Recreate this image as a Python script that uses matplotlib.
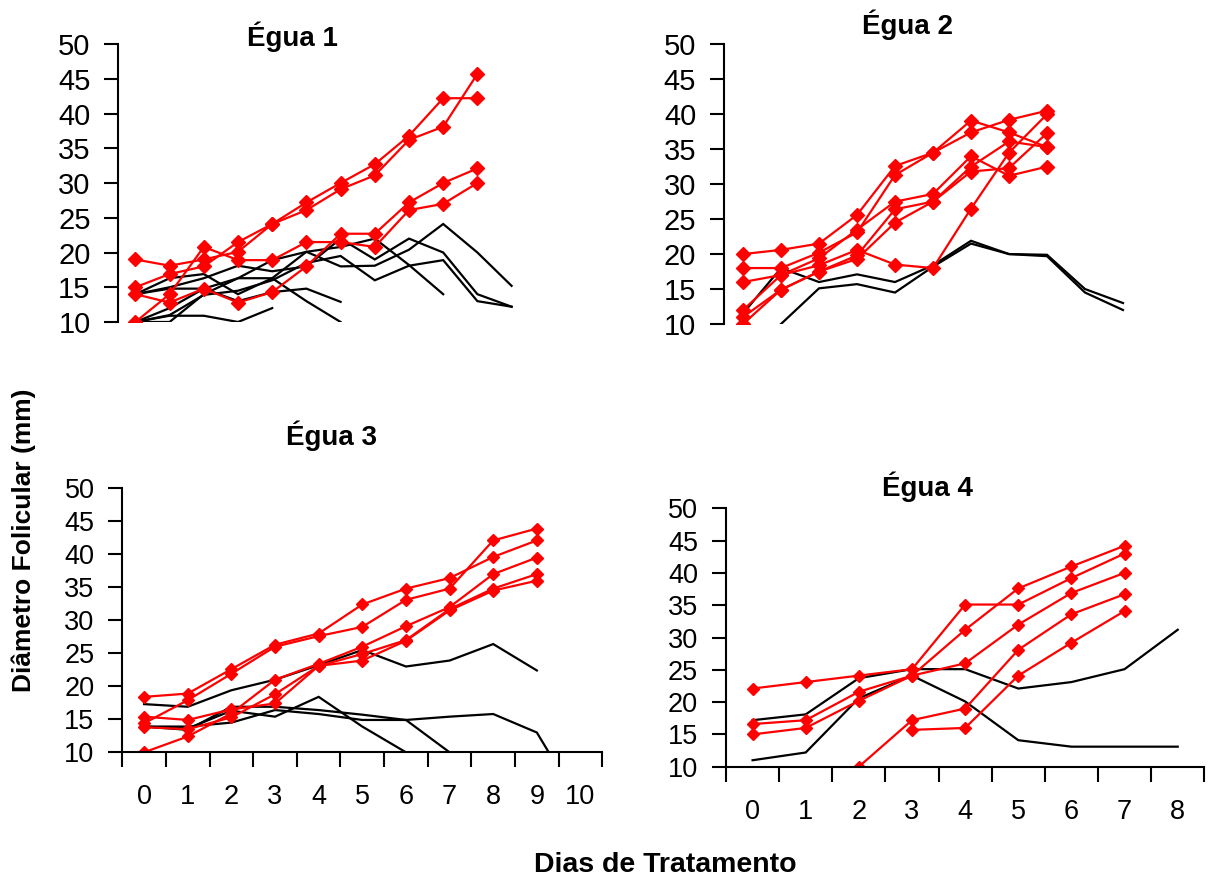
import numpy as np
import matplotlib
matplotlib.use("Agg")
import matplotlib.pyplot as plt

plt.rcParams['font.family'] = ['Liberation Sans', 'DejaVu Sans']

nan = np.nan
RED = '#FF0000'

# ---- Égua 1 (days 0..11) ----
e1_days = list(range(12))
e1_red = [
    [19.0, 18.1, 19.0, 20.1, 24.1, 27.2, 30.0, 32.7, 36.8, 42.2, 42.2, nan],
    [15.0, 16.9, 18.0, 21.5, 24.1, 26.1, 29.1, 31.1, 36.2, 38.1, 45.7, nan],
    [10.0, 14.0, 20.8, 18.9, 18.9, 21.5, 21.5, 20.8, 26.1, 27.0, 30.0, nan],
    [14.0, 12.8, 14.8, 12.8, 14.3, 18.0, 22.7, 22.7, 27.2, 30.0, 32.1, nan],
]
e1_black = [
    [10.0, 10.9, 10.9, 10.0, 12.0, nan, nan, nan, nan, nan, nan, nan],
    [10.0, 10.0, 14.0, 16.3, 16.3, 13.0, 10.0, nan, nan, nan, nan, nan],
    [14.0, 14.8, 14.8, 13.0, 14.3, 14.8, 12.9, nan, nan, nan, nan, nan],
    [14.0, 16.3, 16.9, 14.0, 16.3, 20.1, 20.8, 22.0, 18.2, 14.0, nan, nan],
    [10.0, 12.0, 14.8, 16.3, 18.9, 20.1, 18.0, 18.1, 20.4, 24.1, 20.0, 15.2],
    [14.0, 15.0, 16.3, 18.1, 17.3, 18.0, 22.0, 19.0, 22.0, 20.0, 14.0, 12.2],
    [10.0, 11.0, 13.9, 14.5, 16.0, 18.5, 19.5, 16.0, 18.1, 18.9, 13.0, 12.2],
]

# ---- Égua 2 (days 0..10) ----
e2_days = list(range(11))
e2_red = [
    [20.0, 20.6, 21.5, 25.6, 32.6, 34.5, 39.1, 37.4, 35.3, nan, nan],
    [18.0, 18.0, 20.2, 23.1, 31.3, 34.5, 37.4, 39.2, 40.5, nan, nan],
    [16.0, 17.0, 19.4, 23.5, 27.5, 28.6, 34.0, 31.2, 32.5, nan, nan],
    [12.0, 17.0, 18.4, 20.6, 18.5, 18.0, 26.5, 34.5, 40.0, nan, nan],
    [11.0, 14.9, 17.5, 19.8, 26.4, 27.5, 32.5, 36.1, 35.3, nan, nan],
    [10.0, 14.9, 17.5, 19.3, 24.5, 27.5, 31.8, 32.3, 37.3, nan, nan],
]
e2_black = [
    [11.5, 18.0, 16.0, 17.1, 16.0, 18.4, 21.9, 20.0, 19.9, 15.0, 13.0],
    [nan, 10.0, 15.1, 15.7, 14.5, 18.2, 21.5, 20.0, 19.7, 14.5, 12.0],
]

# ---- Égua 3 (days 0..10) ----
e3_days = list(range(11))
e3_labels = [str(d) for d in e3_days]
e3_red = [
    [18.4, 18.9, 22.6, 26.3, 28.0, 32.4, 34.8, 36.4, 39.6, 42.1, nan],
    [14.4, 17.9, 21.9, 26.0, 27.6, 29.0, 33.1, 34.8, 42.1, 43.9, nan],
    [10.0, 12.4, 15.9, 21.0, 23.4, 26.0, 29.1, 32.0, 37.0, 39.5, nan],
    [15.4, 14.9, 16.5, 17.4, 23.1, 24.9, 27.0, 31.7, 34.8, 37.0, nan],
    [13.8, 13.5, 15.3, 18.8, 23.1, 23.9, 26.9, 31.5, 34.5, 36.0, nan],
]
e3_black = [
    [17.3, 16.9, 19.4, 21.0, 23.2, 25.5, 23.0, 23.9, 26.4, 22.4, nan],
    [13.9, 13.4, 16.9, 16.9, 16.4, 15.7, 14.9, 10.0, nan, nan, nan],
    [13.9, 13.6, 16.3, 15.4, 18.4, 13.9, 10.0, nan, nan, nan, nan],
    [13.9, 13.9, 14.5, 16.4, 15.8, 14.9, 14.9, 15.4, 15.8, 13.0, 2.0],
]

# ---- Égua 4 (days 0..8) ----
e4_days = list(range(9))
e4_labels = [str(d) for d in e4_days]
e4_red = [
    [22.1, 23.1, 24.1, 25.1, 35.1, 35.1, 39.2, 43.0, nan],
    [16.6, 17.2, 21.6, 24.1, 31.2, 37.6, 41.0, 44.2, nan],
    [15.0, 16.0, 20.2, 24.1, 26.0, 32.0, 36.9, 40.0, nan],
    [nan, nan, 10.0, 17.2, 19.0, 28.1, 33.6, 36.7, nan],
    [nan, nan, nan, 15.7, 16.0, 24.1, 29.2, 34.1, nan],
]
e4_black = [
    [17.2, 18.1, 23.7, 25.1, 25.1, 22.1, 23.1, 25.1, 31.2],
    [11.0, 12.2, 20.6, 24.1, 20.1, 14.1, 13.1, 13.1, 13.1],
]

yticks = [10, 15, 20, 25, 30, 35, 40, 45, 50]

W, H = 1220, 881
fig = plt.figure(figsize=(W / 100, H / 100), dpi=100)


def px_axes(left, top, right, bottom):
    return fig.add_axes([left / W, 1 - bottom / H, (right - left) / W, (bottom - top) / H])


def setup(ax, ncat, ysize, xlabels=None):
    ax.set_xlim(-0.5, ncat - 0.5)
    ax.set_ylim(10, 50)
    ax.set_yticks(yticks)
    ax.tick_params(axis='y', direction='out', length=10, width=1.5, labelsize=ysize, pad=10)
    for s in ['top', 'right']:
        ax.spines[s].set_visible(False)
    ax.spines['left'].set_linewidth(1.5)
    if xlabels is None:
        ax.spines['bottom'].set_visible(False)
        ax.set_xticks([])
    else:
        ax.spines['bottom'].set_linewidth(1.5)
        ax.set_xticks(np.arange(-0.5, ncat, 1.0))
        ax.set_xticklabels([])
        ax.tick_params(axis='x', which='major', direction='out', length=11, width=1.5)
        ax.set_xticks(np.arange(ncat), minor=True)
        ax.set_xticklabels(xlabels, minor=True)
        ax.tick_params(axis='x', which='minor', length=0, labelsize=19.5, pad=23)


def draw(ax, days, black, red, ms):
    for s in black:
        ax.plot(days, s, color='black', lw=1.6, solid_joinstyle='miter')
    for s in red:
        ax.plot(days, s, color=RED, lw=1.6, marker='D', ms=ms, mec=RED, mfc=RED)


ax1 = px_axes(118.3, 44, 528.7, 322)
setup(ax1, 12, 21)
draw(ax1, e1_days, e1_black, e1_red, 7)

ax2 = px_axes(724, 44.3, 1142, 324)
setup(ax2, 11, 21)
draw(ax2, e2_days, e2_black, e2_red, 7.5)

ax3 = px_axes(122.3, 488.3, 602.3, 752.3)
setup(ax3, 11, 19.5, e3_labels)
draw(ax3, e3_days, e3_black, e3_red, 6)

ax4 = px_axes(726, 508.3, 1204.3, 766.7)
setup(ax4, 9, 19.5, e4_labels)
draw(ax4, e4_days, e4_black, e4_red, 6.5)

tkw = dict(fontsize=20, fontweight='bold', ha='center', va='baseline')
fig.text(292.5 / W, 1 - 45.7 / H, 'Égua 1', **tkw)
fig.text(907.5 / W, 1 - 34 / H, 'Égua 2', **tkw)
fig.text(331 / W, 1 - 445 / H, 'Égua 3', **tkw)
fig.text(927.5 / W, 1 - 496 / H, 'Égua 4', **tkw)

fig.text(24 / W, 1 - 540 / H, 'Diâmetro Folicular (mm)', fontsize=19, fontweight='bold',
         rotation=90, ha='center', va='center')
fig.text(665 / W, 1 - 865 / H, 'Dias de Tratamento', fontsize=20.5, fontweight='bold',
         ha='center', va='center')

fig.savefig('out.png', dpi=100)
